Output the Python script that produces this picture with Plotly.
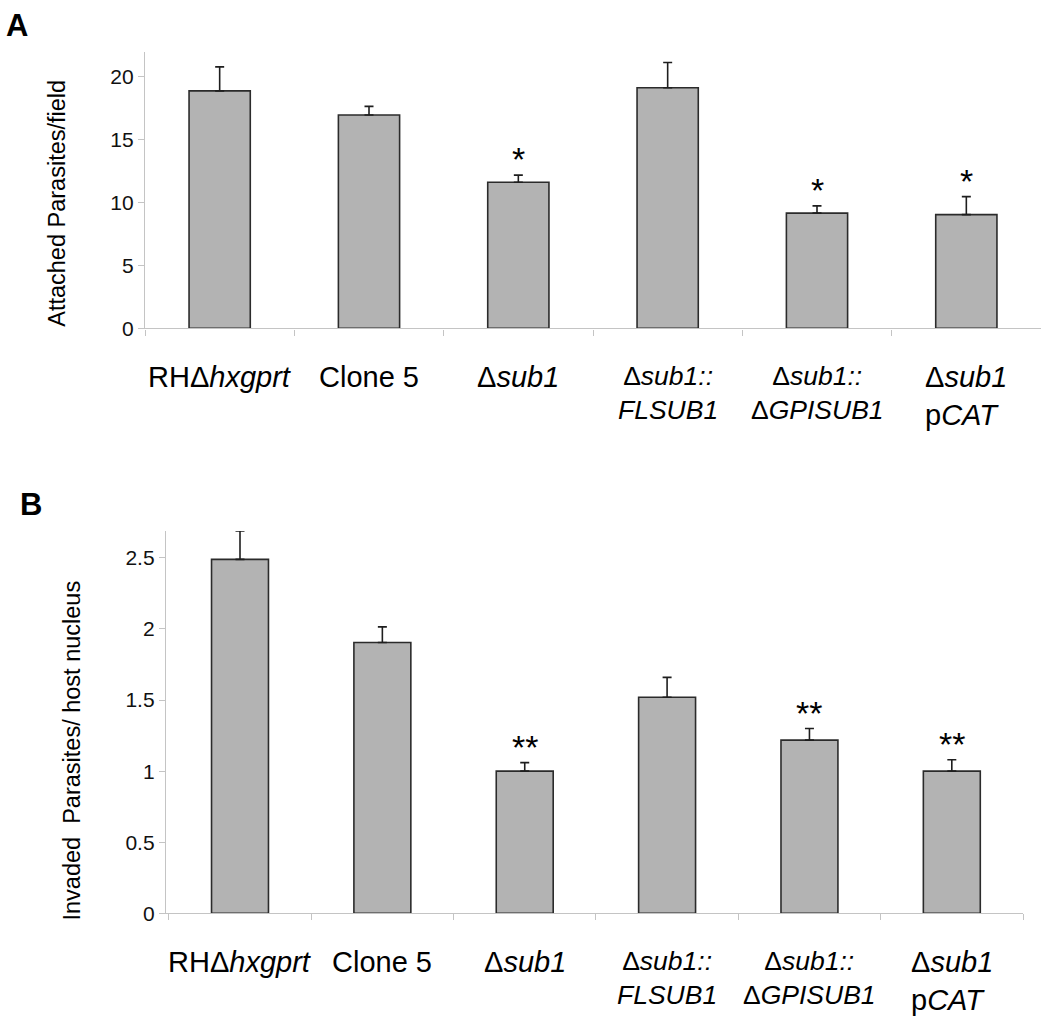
import plotly.graph_objects as go

# ---- data ----
categories = ["RH", "Clone5", "sub1", "sub1FL", "sub1GPI", "sub1pCAT"]
cat_labels = [
    "RHΔ<i>hxgprt</i>",
    "Clone 5",
    "Δ<i>sub1</i>",
    "Δ<i>sub1::</i><br><i>FLSUB1</i>",
    "Δ<i>sub1::</i><br>Δ<i>GPISUB1</i>",
    "Δ<i>sub1</i><br>p<i>CAT</i>",
]
attached_mean = [18.85, 16.94, 11.6, 19.1, 9.15, 9.03]
attached_err = [1.9, 0.68, 0.56, 2.0, 0.57, 1.43]
attached_sig = ["", "", "*", "", "*", "*"]

invaded_mean = [2.49, 1.905, 1.0, 1.52, 1.218, 1.0]
invaded_err = [0.2, 0.11, 0.06, 0.14, 0.082, 0.08]
invaded_sig = ["", "", "**", "", "**", "**"]

W, H = 1050, 1018
FONT = "Liberation Sans, Arial, sans-serif"
BAR_FILL = "#b3b3b3"
BAR_LINE = "#2b2b2b"
AXIS_GRAY = "#c4c4c4"

fig = go.Figure()

def add_panel(mean, err, xa, ya, width):
    fig.add_trace(go.Bar(
        x=categories, y=mean, xaxis=xa, yaxis=ya, width=width,
        marker=dict(color=BAR_FILL, line=dict(color=BAR_LINE, width=1.6)),
        error_y=dict(type="data", array=err, arrayminus=[0] * len(err),
                     symmetric=False, color="#1e1e1e", thickness=1.6, width=4.5),
        showlegend=False, hoverinfo="skip",
    ))

add_panel(attached_mean, attached_err, "x", "y", 0.41)
add_panel(invaded_mean, invaded_err, "x2", "y2", 0.40)

def px_x(p):
    return p / W

def px_y(p):
    return 1 - p / H

common_x = dict(type="category", showline=True, linecolor=AXIS_GRAY, linewidth=1.3,
                ticks="outside", tickson="boundaries", ticklen=6, tickcolor=AXIS_GRAY,
                tickwidth=1.2, showticklabels=False, showgrid=False, zeroline=False,
                fixedrange=True)
common_y = dict(showline=True, linecolor=AXIS_GRAY, linewidth=1.3, ticks="outside",
                ticklen=6, tickcolor=AXIS_GRAY, tickwidth=1.2, showgrid=False,
                zeroline=False, tickfont=dict(family=FONT, size=21, color="#111"),
                fixedrange=True)

fig.update_layout(
    width=W, height=H, autosize=False,
    margin=dict(l=0, r=0, t=0, b=0),
    paper_bgcolor="white", plot_bgcolor="white",
    xaxis=dict(common_x, domain=[px_x(145), px_x(1041)], anchor="y"),
    yaxis=dict(common_y, domain=[px_y(332), px_y(53)], range=[0, 21.9],
               tickvals=[0, 5, 10, 15, 20], anchor="x"),
    xaxis2=dict(common_x, domain=[px_x(166), px_x(1023)], anchor="y2"),
    yaxis2=dict(common_y, domain=[px_y(923.3), px_y(536.7)], range=[0, 2.69],
                dtick=0.5, anchor="x2"),
)

ann = []
# category labels
for xa, ya in (("x", "y"), ("x2", "y2")):
    for c, lab in zip(categories, cat_labels):
        two = "<br>" in lab
        pcat = "CAT" in lab
        size = 29 if (not two or pcat) else 26.5
        ann.append(dict(x=c, y=0, xref=xa, yref=ya, text=lab, showarrow=False,
                        xanchor="center", yanchor="top", yshift=-31,
                        align="left" if pcat else "center",
                        font=dict(family=FONT, size=size, color="#000")))

# significance stars
for xa, ya, mean, err, sig in (("x", "y", attached_mean, attached_err, attached_sig),
                                ("x2", "y2", invaded_mean, invaded_err, invaded_sig)):
    for c, m, e, s in zip(categories, mean, err, sig):
        if s:
            ann.append(dict(x=c, y=m + e, xref=xa, yref=ya, text=s, showarrow=False,
                            xanchor="center", yanchor="bottom", yshift=-5,
                            font=dict(family=FONT, size=34, color="#000")))

# y-axis titles
ann.append(dict(x=px_x(57), y=px_y(206), xref="paper", yref="paper",
                text="Attached Parasites/field", textangle=-90, showarrow=False,
                xanchor="center", yanchor="middle",
                font=dict(family=FONT, size=23.5, color="#000")))
ann.append(dict(x=px_x(72), y=px_y(758.7), xref="paper", yref="paper",
                text="Invaded\u00a0 Parasites/ host nucleus", textangle=-90, showarrow=False,
                xanchor="center", yanchor="middle",
                font=dict(family=FONT, size=23.5, color="#000")))

# panel letters
ann.append(dict(x=px_x(4), y=px_y(6), xref="paper", yref="paper", text="<b>A</b>",
                showarrow=False, xanchor="left", yanchor="top",
                font=dict(family=FONT, size=31, color="#000")))
ann.append(dict(x=px_x(18), y=px_y(490), xref="paper", yref="paper", text="<b>B</b>",
                showarrow=False, xanchor="left", yanchor="top",
                font=dict(family=FONT, size=31, color="#000")))

fig.update_layout(annotations=ann)
fig.write_html(
    "out.html",
    config={"displayModeBar": False},
    post_script="document.body.style.margin='0px';document.body.style.overflow='hidden';",
)
